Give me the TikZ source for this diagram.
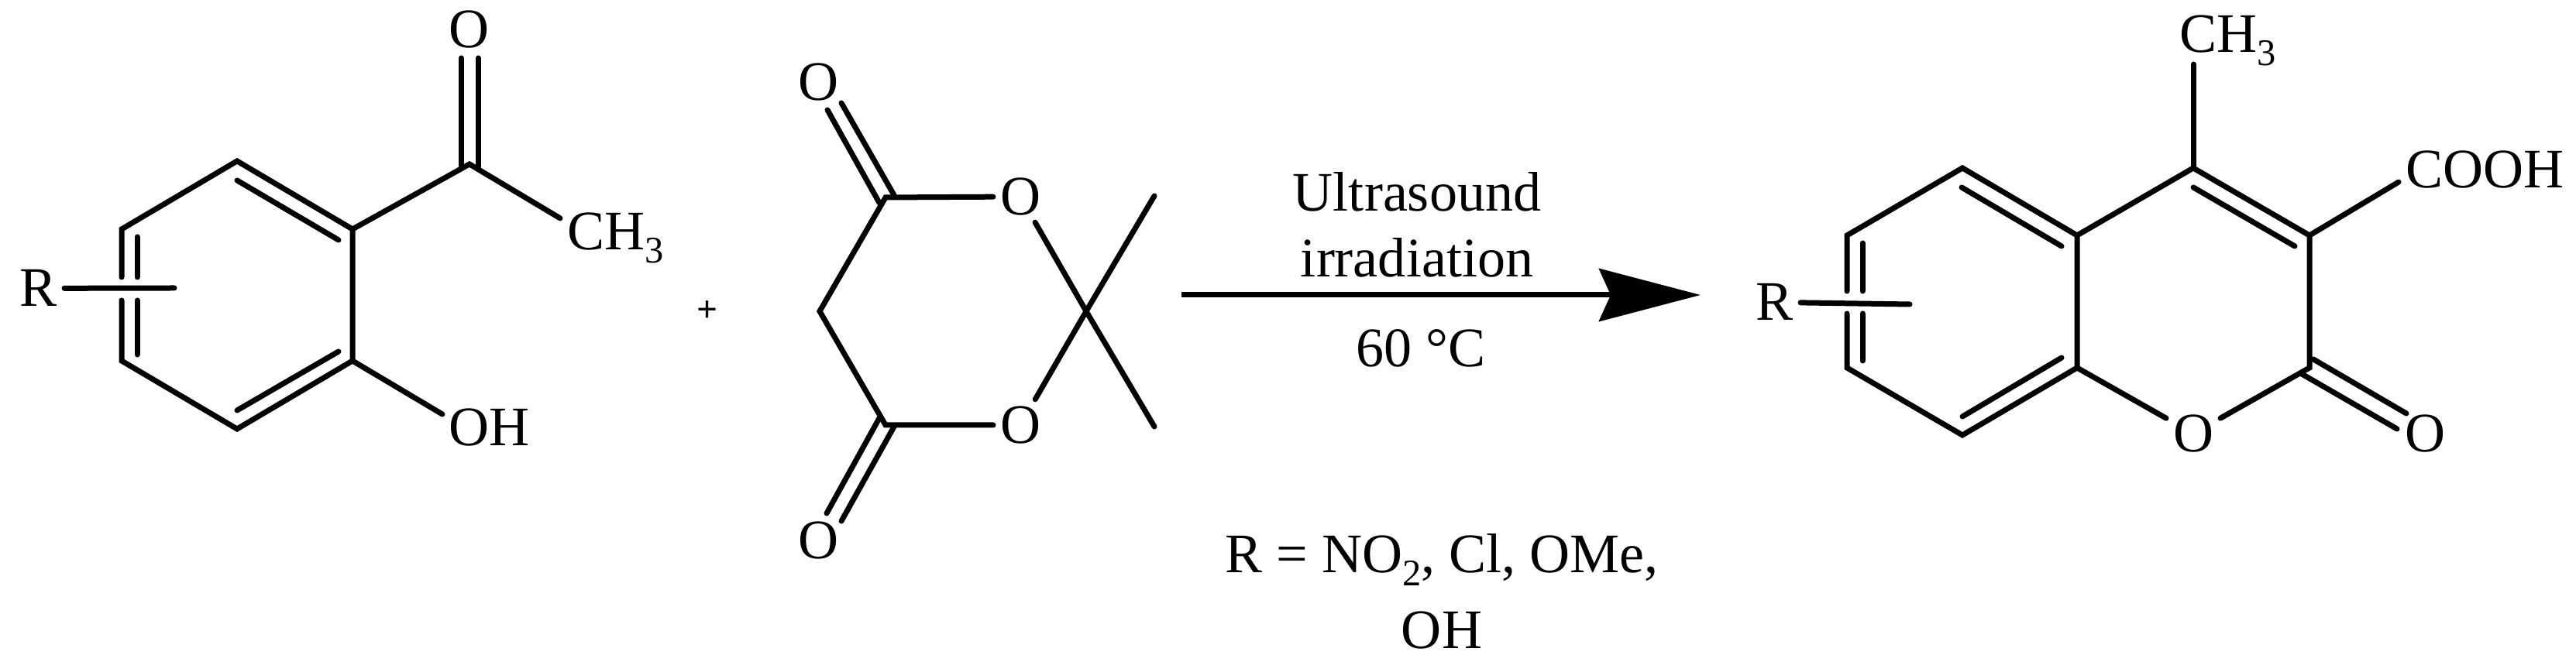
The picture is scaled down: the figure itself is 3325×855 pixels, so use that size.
\documentclass[tikz,border=0pt]{standalone}
\usepackage{fontspec}
\setmainfont{Liberation Serif}
\usetikzlibrary{arrows.meta}
\newcommand{\subnum}[1]{\raisebox{-4.8pt}{\fontsize{13.8pt}{14pt}\selectfont #1}}
\begin{document}
\begin{tikzpicture}[
        x=0.1mm,
        y=-0.1mm,
        bond/.style={line width=0.7mm, line cap=round, line join=miter},
        atom/.style={inner sep=0.9mm, outer sep=0pt, font=\fontsize{20.5pt}{24pt}\selectfont},
        cond/.style={inner sep=0pt, align=center, font=\fontsize{20.5pt}{24pt}\selectfont},
        reactarrow/.style={line width=0.7mm, -{Stealth[length=13.1mm, width=6.8mm, inset=1.5mm]}}
      ]
      \useasboundingbox (0,0) rectangle (3325,855);

      \coordinate (a1) at (306,208);
      \coordinate (a2) at (455,296);
      \coordinate (a3) at (455,466);
      \coordinate (a4) at (306,554);
      \coordinate (a5) at (157,466);
      \coordinate (a6) at (157,296);
      \coordinate (a5gap) at (157,388);
      \coordinate (a6gap) at (157,358);
      \coordinate (a12in) at (306,233);
      \coordinate (a21in) at (437,310);
      \coordinate (a34in) at (437,454);
      \coordinate (a43in) at (306,530);
      \coordinate (a56in) at (177,458);
      \coordinate (a5gapin) at (177,388);
      \coordinate (a6gapin) at (177,358);
      \coordinate (a65in) at (177,306);
      \coordinate (acarb) at (606,212);
      \coordinate (acarbl) at (595,216);
      \coordinate (acarbr) at (617,216);
      \coordinate (aoxl) at (595,75);
      \coordinate (aoxr) at (617,75);
      \coordinate (arend) at (225,372);
      \node[atom, anchor=base] (aox) at (606,62) {O};
      \node[atom, anchor=base west] (ach3) at (723,323) {CH\subnum{3}};
      \node[atom, anchor=base] (aoh) at (632,576) {OH};
      \node[atom, anchor=base] (ar) at (50,396) {R};
      \draw[bond] (a6gap) -- (a6) -- (a1) -- (a2) -- (a3) -- (a4) -- (a5) -- (a5gap);
      \draw[bond] (a12in) -- (a21in);
      \draw[bond] (a34in) -- (a43in);
      \draw[bond] (a65in) -- (a6gapin);
      \draw[bond] (a5gapin) -- (a56in);
      \draw[bond] (ar) -- (arend);
      \draw[bond] (a2) -- (acarb) -- (ach3.160);
      \draw[bond] (a3) -- (aoh.164);
      \draw[bond] (acarbl) -- (aoxl);
      \draw[bond] (acarbr) -- (aoxr);

      \node[inner sep=0pt, font=\fontsize{13.5pt}{14pt}\selectfont\bfseries] (plus) at (913,402) {+};

      \coordinate (m4) at (1143,255);
      \coordinate (m5) at (1058,402);
      \coordinate (m6) at (1143,549);
      \coordinate (m2) at (1402,402);
      \coordinate (me1) at (1490,253);
      \coordinate (me2) at (1490,551);
      \coordinate (m4a) at (1154,252);
      \coordinate (m4b) at (1135,262);
      \coordinate (oa) at (1086,133);
      \coordinate (ob) at (1068,142);
      \coordinate (m6a) at (1154,551);
      \coordinate (m6b) at (1135,540);
      \coordinate (oc) at (1086,673);
      \coordinate (od) at (1067,663);
      \node[atom] (mo1) at (1317,254) {O};
      \node[atom] (mo3) at (1317,549) {O};
      \node[atom] (mox1) at (1057,106) {O};
      \node[atom] (mox2) at (1057,698) {O};
      \draw[bond] (mo1) -- (m4) -- (m5) -- (m6) -- (mo3);
      \draw[bond] (mo1) -- (m2) -- (mo3);
      \draw[bond] (me1) -- (m2) -- (me2);
      \draw[bond] (m4a) -- (oa);
      \draw[bond] (m4b) -- (ob);
      \draw[bond] (m6a) -- (oc);
      \draw[bond] (m6b) -- (od);

      \coordinate (arrowtail) at (1525,381);
      \coordinate (arrowtip) at (2195,381);
      \draw[reactarrow] (arrowtail) -- (arrowtip);
      \node[cond] (ultra) at (1829,290) {Ultrasound\\[0.2pt]irradiation};
      \node[cond] (temp) at (1834,450) {60 °C};
      \node[cond] (rlist) at (1861,764) {R = NO\subnum{2}, Cl, OMe,\\[4pt]OH};

      \coordinate (c1) at (2533,217);
      \coordinate (c2) at (2681,304);
      \coordinate (c3) at (2681,475);
      \coordinate (c4) at (2533,562);
      \coordinate (c5) at (2384,475);
      \coordinate (c6) at (2384,304);
      \coordinate (c5gap) at (2384,405);
      \coordinate (c6gap) at (2384,376);
      \coordinate (c12in) at (2532,242);
      \coordinate (c21in) at (2661,318);
      \coordinate (c34in) at (2661,462);
      \coordinate (c43in) at (2533,538);
      \coordinate (c56in) at (2404,466);
      \coordinate (c5gapin) at (2404,405);
      \coordinate (c6gapin) at (2404,376);
      \coordinate (c65in) at (2404,314);
      \coordinate (p4) at (2831,217);
      \coordinate (p3) at (2981,304);
      \coordinate (p2) at (2981,475);
      \coordinate (p43in) at (2831,242);
      \coordinate (p34in) at (2962,318);
      \coordinate (p2a) at (2986,464);
      \coordinate (p2b) at (2971,483);
      \coordinate (pxa) at (3106,534);
      \coordinate (pxb) at (3094,554);
      \coordinate (pch3end) at (2831,83);
      \coordinate (crend) at (2465,393);
      \node[atom, anchor=base west] (pch3) at (2804,68) {CH\subnum{3}};
      \node[atom, anchor=base west] (pcooh) at (3096,243) {COOH};
      \node[atom] (po1) at (2831,560) {O};
      \node[atom] (pox) at (3130,560) {O};
      \node[atom, anchor=base] (cr) at (2291,414) {R};
      \draw[bond] (c6gap) -- (c6) -- (c1) -- (c2) -- (c3) -- (c4) -- (c5) -- (c5gap);
      \draw[bond] (c12in) -- (c21in);
      \draw[bond] (c34in) -- (c43in);
      \draw[bond] (c65in) -- (c6gapin);
      \draw[bond] (c5gapin) -- (c56in);
      \draw[bond] (cr) -- (crend);
      \draw[bond] (c2) -- (p4) -- (p3) -- (p2) -- (po1) -- (c3);
      \draw[bond] (p43in) -- (p34in);
      \draw[bond] (p4) -- (pch3end);
      \draw[bond] (p3) -- (pcooh.188);
      \draw[bond] (p2a) -- (pxa);
      \draw[bond] (p2b) -- (pxb);
    \end{tikzpicture}
\end{document}
